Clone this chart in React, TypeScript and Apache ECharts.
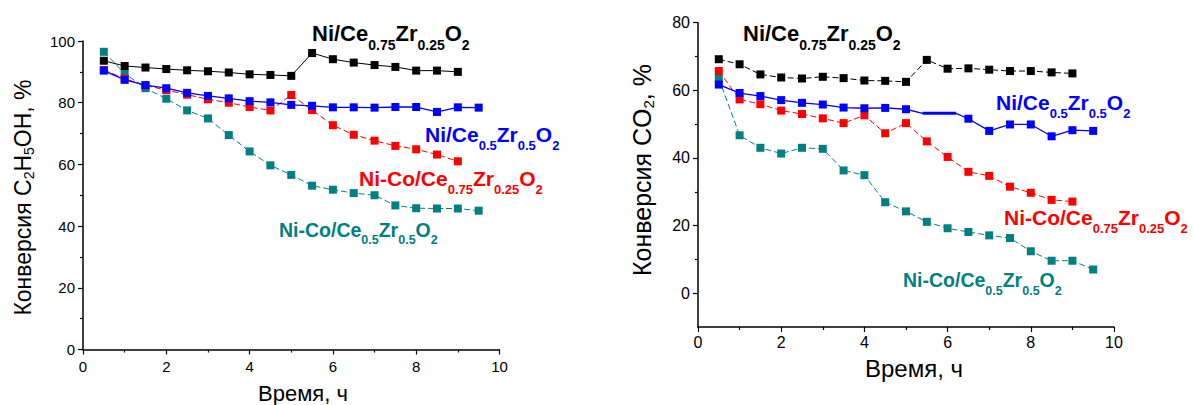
import React, { useEffect, useRef } from 'react';
import * as echarts from 'echarts';

// ---------- data ----------
const times = [0.5, 1, 1.5, 2, 2.5, 3, 3.5, 4, 4.5, 5, 5.5, 6, 6.5, 7, 7.5, 8, 8.5, 9, 9.5];

// C2H5OH conversion, %
const ethNiCe75 = [93.6, 91.9, 91.4, 90.9, 90.5, 90.2, 89.8, 89.2, 89.0, 88.7, 96.1, 94.1, 93.0, 92.2, 91.6, 90.4, 90.4, 90.0];
const ethNiCe50 = [90.4, 87.4, 85.7, 84.7, 83.2, 82.2, 81.4, 80.5, 80.1, 79.3, 79.0, 78.5, 78.5, 78.4, 78.6, 78.6, 77.0, 78.5, 78.4];
const ethNiCoCe75 = [90.6, 87.8, 85.6, 84.1, 82.6, 81.1, 80.0, 78.6, 77.5, 82.5, 77.6, 72.7, 69.6, 67.7, 66.0, 64.9, 63.2, 61.0];
const ethNiCoCe50 = [96.5, 89.5, 84.7, 81.3, 77.5, 74.9, 69.5, 64.2, 59.7, 56.6, 53.1, 51.8, 50.7, 50.0, 46.7, 45.8, 45.7, 45.7, 45.0];

// CO2 conversion, %
const co2NiCe75 = [69.2, 67.7, 64.7, 63.8, 63.5, 64.0, 63.6, 62.9, 62.8, 62.5, 69.0, 66.4, 66.5, 66.1, 65.7, 65.7, 65.3, 65.0];
const co2NiCe50Time = [0.5, 1, 1.5, 2, 2.5, 3, 3.5, 4, 4.5, 5, 5.4, 6.2, 6.5, 7, 7.5, 8, 8.5, 9, 9.5];
const co2NiCe50 = [61.7, 59.2, 58.3, 57.1, 56.3, 55.8, 54.9, 54.7, 54.8, 54.4, 53.2, 53.2, 51.6, 48.0, 49.9, 49.9, 46.4, 48.2, 48.0];
const co2NiCe50NoMarker = [5.4, 6.2];
const co2NiCoCe75 = [65.7, 57.3, 55.9, 54.0, 53.0, 51.7, 50.3, 52.6, 47.3, 50.3, 44.9, 40.3, 35.9, 34.7, 31.5, 29.7, 27.6, 27.1];
const co2NiCoCe50 = [63.5, 46.7, 43.0, 41.3, 43.0, 42.7, 36.3, 34.9, 26.9, 24.2, 21.1, 19.2, 18.1, 17.1, 16.3, 12.4, 9.6, 9.6, 7.0];

const xTicksMajor = [0, 2, 4, 6, 8, 10];
const co2LabelTicks = [0, 20, 40, 60, 80];
const co2MinorTicks = [10, 30, 50, 70];

// ---------- styles ----------
const FONT = '"Liberation Sans", Arial, Helvetica, sans-serif';
const BLACK = '#000000';
const BLUE = '#0000ff';
const RED = '#ff0000';
const TEAL = '#008080';

type Part = [string, boolean];

function formula(x: number, y: number, parts: Part[], color: string, F: number, S: number, P: number) {
  const text = parts.map(([s, sub]) => `{${sub ? 's' : 'm'}|${s}}`).join('');
  return {
    type: 'text',
    x,
    y,
    silent: true,
    z: 100,
    style: {
      text,
      align: 'left',
      verticalAlign: 'top',
      fill: color,
      rich: {
        m: { fontSize: F, fontWeight: 'bold', fontFamily: FONT, lineHeight: F, verticalAlign: 'top', fill: color },
        s: { fontSize: S, fontWeight: 'bold', fontFamily: FONT, lineHeight: S, padding: [P, 0, 0, 0], verticalAlign: 'top', fill: color },
      },
    },
  };
}

function title(x: number, y: number, parts: Part[], F: number, S: number, P: number, rotated: boolean) {
  const text = parts.map(([s, sub]) => `{${sub ? 's' : 'm'}|${s}}`).join('');
  return {
    type: 'text',
    x,
    y,
    rotation: rotated ? Math.PI / 2 : 0,
    silent: true,
    style: {
      text,
      align: 'center',
      verticalAlign: 'top',
      fill: BLACK,
      rich: {
        m: { fontSize: F, fontFamily: FONT, lineHeight: F, verticalAlign: 'top', fill: BLACK },
        s: { fontSize: S, fontFamily: FONT, lineHeight: S, padding: [P, 0, 0, 0], verticalAlign: 'top', fill: BLACK },
      },
    },
  };
}

function pairs(t: number[], v: number[]) {
  return v.map((y, i) => [t[i], y]);
}

function line(name: string, xi: number, yi: number, data: any[], color: string, dashed: boolean, width = 1) {
  return {
    name,
    type: 'line',
    xAxisIndex: xi,
    yAxisIndex: yi,
    data,
    symbol: 'rect',
    symbolSize: 8,
    showSymbol: true,
    itemStyle: { color },
    lineStyle: { color, width, type: dashed ? [6, 3] : 'solid' },
    emphasis: { disabled: true },
  };
}

const axisLine = { show: true, onZero: false, lineStyle: { color: BLACK, width: 1.5 } };

function xAxisOf(grid: number, fontSize: number, margin: number) {
  return {
    type: 'value',
    gridIndex: grid,
    min: 0,
    max: 10,
    interval: 2,
    axisLine,
    axisTick: { show: true, length: 5, lineStyle: { color: BLACK, width: 1.2 } },
    minorTick: { show: true, splitNumber: 2, length: 3, lineStyle: { color: BLACK, width: 1.2 } },
    splitLine: { show: false },
    minorSplitLine: { show: false },
    axisLabel: {
      fontSize,
      color: BLACK,
      margin,
      fontFamily: FONT,
      formatter: (v: number) => (xTicksMajor.includes(v) ? String(v) : ''),
    },
  };
}

export default function App() {
  const ref = useRef<HTMLDivElement>(null);

  useEffect(() => {
    document.body.style.margin = '0';
    if (!ref.current) return;
    const chart = echarts.init(ref.current, null, { renderer: 'svg' });

    const co2BlueData = co2NiCe50.map((y, i) => {
      const t = co2NiCe50Time[i];
      return co2NiCe50NoMarker.includes(t) ? { value: [t, y], symbol: 'none' } : [t, y];
    });
    const co2BlueBold = co2NiCe50Time
      .map((t, i) => [t, co2NiCe50[i]])
      .filter(([t]) => co2NiCe50NoMarker.includes(t));

    const option: any = {
      animation: false,
      backgroundColor: '#ffffff',
      grid: [
        { left: 83, top: 41, width: 416.5, height: 308.5 },
        { left: 698, top: 22.7, width: 416, height: 304.3 },
      ],
      xAxis: [xAxisOf(0, 15, 9), xAxisOf(1, 16, 7)],
      yAxis: [
        {
          type: 'value',
          gridIndex: 0,
          position: 'left',
          min: 0,
          max: 100,
          interval: 20,
          axisLine,
          axisTick: { show: true, length: 5, lineStyle: { color: BLACK, width: 1.2 } },
          minorTick: { show: true, splitNumber: 2, length: 3, lineStyle: { color: BLACK, width: 1.2 } },
          splitLine: { show: false },
          minorSplitLine: { show: false },
          axisLabel: { fontSize: 15, color: BLACK, margin: 8, fontFamily: FONT },
        },
        {
          type: 'value',
          gridIndex: 1,
          position: 'left',
          min: -10,
          max: 80,
          interval: 10,
          axisLine,
          axisTick: { show: true, length: 5, customValues: co2LabelTicks, lineStyle: { color: BLACK, width: 1.2 } },
          splitLine: { show: false },
          axisLabel: {
            fontSize: 16,
            color: BLACK,
            margin: 8,
            fontFamily: FONT,
            customValues: co2LabelTicks,
            formatter: (v: number) => (co2LabelTicks.includes(v) ? String(v) : ''),
          },
        },
        {
          type: 'value',
          gridIndex: 1,
          position: 'left',
          offset: 0,
          min: -10,
          max: 80,
          interval: 10,
          axisLine: { show: false, onZero: false },
          axisTick: { show: true, length: 3, customValues: co2MinorTicks, lineStyle: { color: BLACK, width: 1.2 } },
          splitLine: { show: false },
          axisLabel: { show: false },
        },
      ],
      series: [
        line('eth Ni-Co/Ce0.5', 0, 0, pairs(times, ethNiCoCe50), TEAL, true),
        line('eth Ni-Co/Ce0.75', 0, 0, pairs(times, ethNiCoCe75), RED, true),
        line('eth Ni/Ce0.5', 0, 0, pairs(times, ethNiCe50), BLUE, false, 1.3),
        line('eth Ni/Ce0.75', 0, 0, pairs(times, ethNiCe75), BLACK, false),
        line('co2 Ni-Co/Ce0.5', 1, 1, pairs(times, co2NiCoCe50), TEAL, true),
        line('co2 Ni-Co/Ce0.75', 1, 1, pairs(times, co2NiCoCe75), RED, true),
        line('co2 Ni/Ce0.5', 1, 1, co2BlueData, BLUE, false, 1.3),
        { ...line('co2 Ni/Ce0.5 bold', 1, 1, co2BlueBold, BLUE, false, 3), symbol: 'none', showSymbol: false },
        line('co2 Ni/Ce0.75', 1, 1, pairs(times, co2NiCe75), BLACK, true),
      ],
      graphic: [
        // left panel labels
        formula(312, 22.1, [['Ni/Ce', false], ['0.75', true], ['Zr', false], ['0.25', true], ['O', false], ['2', true]], BLACK, 22, 14, 15.5),
        formula(425, 123.9, [['Ni/Ce', false], ['0.5', true], ['Zr', false], ['0.5', true], ['O', false], ['2', true]], BLUE, 21, 13, 15.5),
        formula(359, 167.9, [['Ni-Co/Ce', false], ['0.75', true], ['Zr', false], ['0.25', true], ['O', false], ['2', true]], RED, 21, 13, 15.5),
        formula(279, 219.5, [['Ni-Co/Ce', false], ['0.5', true], ['Zr', false], ['0.5', true], ['O', false], ['2', true]], TEAL, 19.5, 12.5, 13.9),
        // right panel labels
        formula(743, 22.4, [['Ni/Ce', false], ['0.75', true], ['Zr', false], ['0.25', true], ['O', false], ['2', true]], BLACK, 22, 14, 15.5),
        formula(996, 91.5, [['Ni/Ce', false], ['0.5', true], ['Zr', false], ['0.5', true], ['O', false], ['2', true]], BLUE, 21, 13, 15.5),
        formula(1004, 206.5, [['Ni-Co/Ce', false], ['0.75', true], ['Zr', false], ['0.25', true], ['O', false], ['2', true]], RED, 21, 13, 15.5),
        formula(903, 270.2, [['Ni-Co/Ce', false], ['0.5', true], ['Zr', false], ['0.5', true], ['O', false], ['2', true]], TEAL, 19.5, 12.5, 13.9),
        // axis titles
        title(11, 197.5, [['Конверсия C', false], ['2', true], ['H', false], ['5', true], ['OH, %', false]], 23, 14, 10.6, true),
        title(629, 170, [['Конверсия CO', false], ['2', true], [', %', false]], 25, 15, 11.5, true),
        title(303, 382.4, [['Время, ч', false]], 22, 14, 0, false),
        title(914, 356.7, [['Время, ч', false]], 24, 14, 0, false),
      ],
    };

    chart.setOption(option);
    return () => chart.dispose();
  }, []);

  return <div ref={ref} style={{ width: 1193, height: 405 }} />;
}
